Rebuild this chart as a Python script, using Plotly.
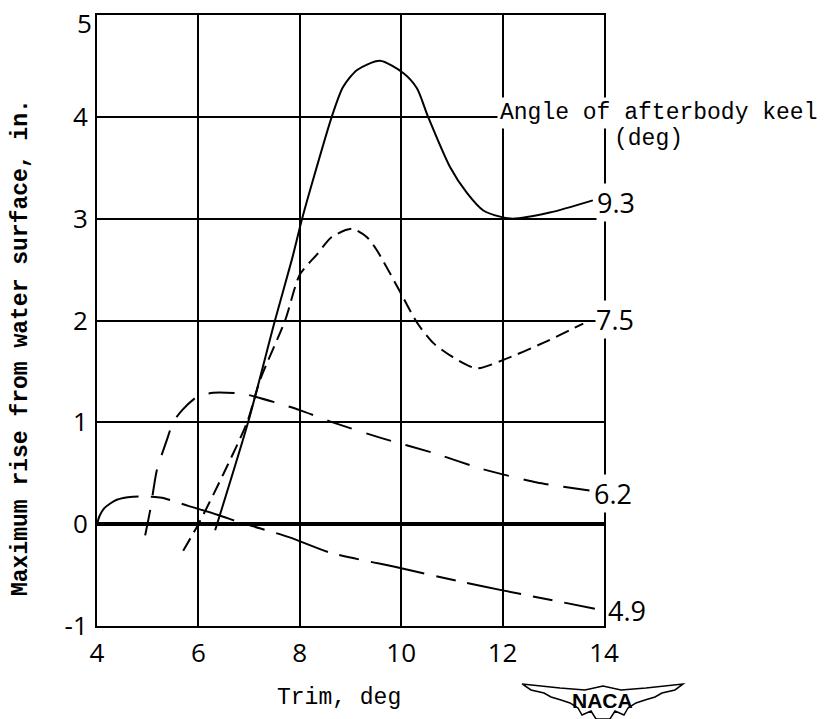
import plotly.graph_objects as go

# ---- data ----
x_93 = [6.33, 6.98, 7.51, 7.85, 8.04, 8.26, 8.63, 8.85, 9.13, 9.58, 10.04, 10.31, 10.53, 10.96, 11.3, 11.62, 11.95, 12.2, 12.93, 13.78]
y_93 = [-0.06, 1.0, 2.0, 2.61, 2.99, 3.38, 4.0, 4.29, 4.46, 4.55, 4.43, 4.28, 4.0, 3.51, 3.25, 3.08, 3.02, 3.0, 3.06, 3.18]

x_75 = [5.70, 6.0, 6.5, 6.96, 7.22, 7.71, 8.0, 8.34, 8.63, 9.03, 9.32, 9.52, 9.98, 10.31, 10.63, 11.02, 11.49, 12.0, 12.8, 13.59]
y_75 = [-0.26, 0.0, 0.5, 1.0, 1.42, 2.0, 2.45, 2.65, 2.82, 2.90, 2.82, 2.69, 2.28, 1.98, 1.78, 1.64, 1.53, 1.61, 1.78, 1.97]

x_62 = [4.95, 5.05, 5.18, 5.38, 5.5, 5.68, 5.97, 6.29, 6.88, 7.55, 8.0, 8.65, 9.58, 10.63, 11.61, 12.68, 13.72]
y_62 = [-0.11, 0.14, 0.53, 0.83, 1.0, 1.12, 1.25, 1.29, 1.28, 1.19, 1.12, 1.0, 0.85, 0.70, 0.54, 0.41, 0.33]

x_49 = [4.0, 4.05, 4.15, 4.39, 4.71, 5.08, 5.28, 5.8, 6.39, 6.86, 7.21, 7.8, 8.6, 9.98, 11.22, 12.0, 13.82]
y_49 = [0.0, 0.08, 0.16, 0.24, 0.27, 0.27, 0.26, 0.18, 0.09, 0.01, -0.04, -0.13, -0.28, -0.43, -0.57, -0.65, -0.83]

series_labels = ["9.3", "7.5", "6.2", "4.9"]
x_ticks = [4, 6, 8, 10, 12, 14]
y_ticks = [-1, 0, 1, 2, 3, 4, 5]

MONO = "Liberation Mono"
DIGIT = "Open Sans"

series = [
    (x_93, y_93, "solid", 0.7),
    (x_75, y_75, "14px,7px", 0.7),
    (x_62, y_62, "26px,15px", 0.6),
    (x_49, y_49, "55px,12px,20px,12px", 0.7),
]

fig = go.Figure()
for (xs, ys, dash, sm), name in zip(series, series_labels):
    fig.add_trace(go.Scatter(
        x=xs, y=ys, mode="lines", name=name,
        line=dict(color="black", width=2, dash=dash, shape="spline", smoothing=sm),
        showlegend=False, hoverinfo="skip"))

# end labels anchored to each series' last point
label_shift = {"9.3": (3, -2), "7.5": (12, 4), "6.2": (3, -3), "4.9": (12, -2)}
for (xs, ys, _, _), name in zip(series, series_labels):
    dx, dy = label_shift[name]
    fig.add_annotation(x=xs[-1], y=ys[-1], text=name, showarrow=False,
                       xanchor="left", yanchor="middle", xshift=dx, yshift=dy,
                       font=dict(family=DIGIT, size=27, color="black"),
                       bgcolor=None if name == "4.9" else "white", borderpad=0)

L, R, T, B = 97, 604, 15, 626
W, H = 831, 719
def px(xp):
    return (xp - L) / (R - L)
def py(yp):
    return (B - yp) / (B - T)

# the top y tick label sits just below the frame in the reference
ytick_text = [str(v) for v in y_ticks[:-1]] + [""]
fig.add_annotation(x=0, xref="paper", y=y_ticks[-1], yref="y", text=str(y_ticks[-1]),
                   showarrow=False, xanchor="right", yanchor="middle",
                   xshift=-3, yshift=-8,
                   font=dict(family=DIGIT, size=26, color="black"))

fig.add_annotation(x=px(497), y=py(113), xref="paper", yref="paper",
                   text="Angle of afterbody keel", showarrow=False,
                   xanchor="left", yanchor="middle", bgcolor="white", borderpad=2,
                   font=dict(family=MONO, size=23, color="black"))
fig.add_annotation(x=px(648), y=py(139), xref="paper", yref="paper",
                   text="(deg)", showarrow=False,
                   xanchor="center", yanchor="middle", bgcolor="white", borderpad=0,
                   font=dict(family=MONO, size=23, color="black"))

fig.add_annotation(x=px(21), y=py(348), xref="paper", yref="paper",
                   text="<b>Maximum rise from water surface, in.</b>", showarrow=False,
                   textangle=-90, xanchor="center", yanchor="middle",
                   font=dict(family=MONO, size=23, color="black"))
fig.add_annotation(x=px(339), y=py(698), xref="paper", yref="paper",
                   text="Trim, deg", showarrow=False,
                   xanchor="center", yanchor="middle",
                   font=dict(family=MONO, size=23, color="black"))

# NACA emblem
wing = [(522, 684), (560, 688), (585, 690), (603, 686), (621, 690), (646, 688),
        (683, 684), (675, 690), (662, 693), (655, 697), (645, 700), (636, 703),
        (628, 708), (624, 715), (615, 711), (610, 719), (596, 719), (591, 711),
        (582, 715), (578, 708), (570, 703), (561, 700), (551, 697), (544, 693),
        (531, 690)]
path = "M " + " L ".join(f"{px(a):.4f},{py(b):.4f}" for a, b in wing) + " Z"
fig.add_shape(type="path", path=path, xref="paper", yref="paper",
              line=dict(color="black", width=1.5), fillcolor="white", layer="above")
fig.add_annotation(x=px(602), y=py(700), xref="paper", yref="paper",
                   text="<b>NACA</b>", showarrow=False, xanchor="center", yanchor="middle",
                   font=dict(family="Liberation Sans", size=21, color="black"))

fig.update_xaxes(range=[4, 14], tickvals=x_ticks, ticktext=[str(v) for v in x_ticks],
                 showgrid=True, gridcolor="black", gridwidth=1.5,
                 showline=True, mirror=True, linecolor="black", linewidth=2,
                 zeroline=False, ticks="", ticklabelstandoff=3,
                 ticklabeloverflow="allow", automargin=False,
                 tickfont=dict(family=DIGIT, size=26, color="black"))
fig.update_yaxes(range=[-1, 5], tickvals=y_ticks, ticktext=ytick_text,
                 showgrid=True, gridcolor="black", gridwidth=1.5,
                 showline=True, mirror=True, linecolor="black", linewidth=2,
                 zeroline=True, zerolinecolor="black", zerolinewidth=3.5,
                 ticks="", ticklabelstandoff=2, ticklabeloverflow="allow",
                 automargin=False,
                 tickfont=dict(family=DIGIT, size=26, color="black"))

fig.update_layout(width=W, height=H, margin=dict(l=L, r=W - R, t=T, b=H - B, autoexpand=False),
                  paper_bgcolor="white", plot_bgcolor="white")

fig.write_html("out.html", config={"displayModeBar": False},
               post_script="document.body.style.margin='0';")
